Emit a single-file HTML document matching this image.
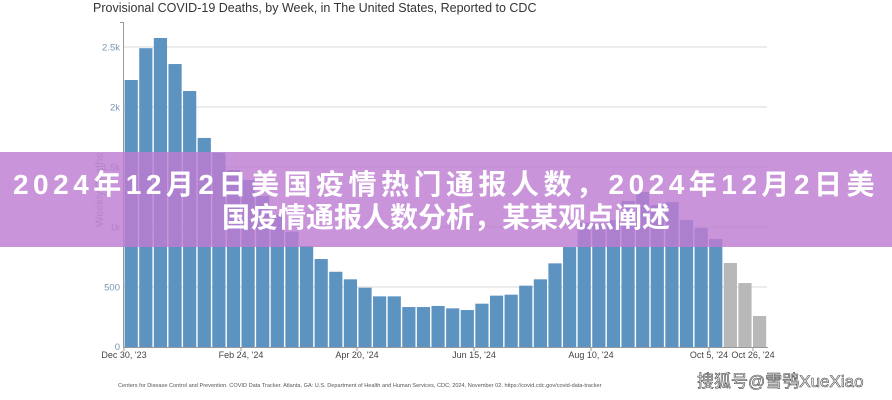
<!DOCTYPE html>
<html><head><meta charset="utf-8">
<style>
html,body{margin:0;padding:0;background:#fff;}
#w{position:relative;width:892px;height:400px;overflow:hidden;font-family:"Liberation Sans","Noto Sans CJK SC",sans-serif;}
svg{position:absolute;left:0;top:0;}
#band{position:absolute;left:0;top:152px;width:892px;height:95px;background:rgba(190,125,210,0.82);}
#t1,#t2{position:absolute;left:0;width:892px;text-align:center;color:#fff;font-weight:bold;font-size:28px;font-family:"Liberation Sans","Noto Sans CJK SC",sans-serif;white-space:nowrap;line-height:32px;}
#t1{top:169px;letter-spacing:4.5px;}
#t2{top:202px;}
#wm{position:absolute;left:697px;top:367px;font-size:17px;color:#fff;font-family:"Liberation Sans","Noto Sans CJK SC",sans-serif;-webkit-text-stroke:0.6px #444;white-space:nowrap;}
</style></head><body>
<div id="w">
<svg id="s" width="892" height="400" xmlns="http://www.w3.org/2000/svg"></svg>
<div id="band"></div>
<div id="t1">2024年12月2日美国疫情热门通报人数，2024年12月2日美</div>
<div id="t2">国疫情通报人数分析，某某观点阐述</div>
<div id="wm">搜狐号@雪鸮XueXiao</div>
</div>
<script>
var v=[2225,2490,2575,2358,2133,1742,1619,1475,1392,1258,1100,961,842,733,627,564,494,422,422,333,333,342,322,308,361,428,436,511,564,697,833,1036,1036,1058,1217,1292,1183,1208,1058,992,900,700,533,258];
var s='';
var y0=347,k=0.12;
s+='<text x="93" y="12" font-size="12.5" fill="#333" font-family="Liberation Sans, sans-serif">Provisional COVID-19 Deaths, by Week, in The United States, Reported to CDC</text>';
var g=[[500,'500'],[1000,'1k'],[1500,'1.5k'],[2000,'2k'],[2500,'2.5k']];
g.forEach(function(a){var y=y0-a[0]*k;s+='<line x1="123" x2="767" y1="'+y+'" y2="'+y+'" stroke="#d8d8d8" stroke-width="1"/>';s+='<text x="120" y="'+(y+3.5)+'" font-size="9.5" fill="#7a95b5" text-anchor="end">'+a[1]+'</text>';});
s+='<text x="120" y="'+(y0+3)+'" font-size="9.5" fill="#7a95b5" text-anchor="end">0</text>';
var bw=643/44;
v.forEach(function(val,i){var x=124+i*bw;var h=val*k;s+='<rect x="'+(x+0.6).toFixed(2)+'" y="'+(y0-h).toFixed(2)+'" width="'+(bw-1.4).toFixed(2)+'" height="'+h.toFixed(2)+'" fill="'+(i>=41?'#b8b8b8':'#5d93c1')+'"/>';});
s+='<line x1="123.5" x2="123.5" y1="22" y2="'+y0+'" stroke="#999" stroke-width="1"/>';
s+='<line x1="120" x2="123" y1="22.5" y2="22.5" stroke="#999"/>';
s+='<line x1="123" x2="768" y1="'+(y0+0.5)+'" y2="'+(y0+0.5)+'" stroke="#999" stroke-width="1"/>';
s+='<text transform="translate(103,190) rotate(-90)" font-size="11" fill="#8aa0bb" text-anchor="middle">Weekly Deaths</text>';
var xl=[[124,"Dec 30, '23"],[241,"Feb 24, '24"],[357,"Apr 20, '24"],[474,"Jun 15, '24"],[591,"Aug 10, '24"],[709,"Oct 5, '24"],[753,"Oct 26, '24"]];
xl.forEach(function(a){s+='<line x1="'+a[0]+'" x2="'+a[0]+'" y1="'+y0+'" y2="'+(y0+4)+'" stroke="#999"/>';s+='<text x="'+a[0]+'" y="358" font-size="9" fill="#444" text-anchor="middle">'+a[1]+'</text>';});
s+='<text x="118" y="387" font-size="5.6" fill="#555">Centers for Disease Control and Prevention. COVID Data Tracker. Atlanta, GA: U.S. Department of Health and Human Services, CDC; 2024, November 02. https://covid.cdc.gov/covid-data-tracker</text>';
document.getElementById('s').innerHTML=s;
</script>
</body></html>
